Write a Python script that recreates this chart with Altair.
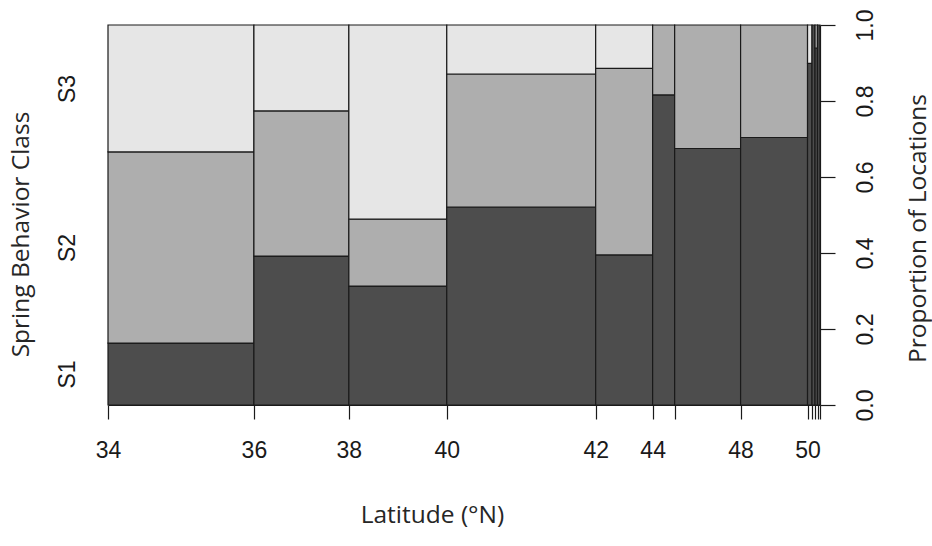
import altair as alt
import pandas as pd

# ---- data ----
lat_breaks = [34, 36, 38, 40, 42, 44, 46, 48, 50, 52, 54, 56, 58]
shown_labels = ["34", "36", "38", "40", "42", "44", "", "48", "50", "", "", "", ""]
# share of locations (%) in each latitude bin -> bar widths of the spineplot
bin_share = [20.49, 13.33, 13.75, 20.91, 8.00, 3.09, 9.26, 9.40, 0.63, 0.42, 0.35, 0.35]
# proportion of each spring behaviour class within each bin
s1_prop = [0.163, 0.392, 0.313, 0.521, 0.395, 0.816, 0.675, 0.704, 0.899, 1.000, 0.939, 1.000]
s2_prop = [0.503, 0.382, 0.176, 0.350, 0.491, 0.184, 0.325, 0.296, 0.000, 0.000, 0.061, 0.000]
s3_prop = [0.334, 0.226, 0.511, 0.129, 0.114, 0.000, 0.000, 0.000, 0.101, 0.000, 0.000, 0.000]
classes = ["S1", "S2", "S3"]
class_colors = ["#4D4D4D", "#AEAEAE", "#E6E6E6"]
prop_ticks = [0.0, 0.2, 0.4, 0.6, 0.8, 1.0]

# ---- build spineplot table ----
cum = [0.0]
for w in bin_share:
    cum.append(cum[-1] + w)
total = cum[-1]

rows = []
for i in range(len(bin_share)):
    base = 0.0
    for cls, vals in zip(classes, [s1_prop, s2_prop, s3_prop]):
        v = vals[i]
        if v > 0:
            rows.append({"x0": cum[i], "x1": cum[i + 1], "y0": base, "y1": base + v, "cls": cls})
        base += v
df = pd.DataFrame(rows)

# x-axis label expression
x_parts = [f"abs(datum.value - {p:.6f}) < 0.001 ? '{l}'" for p, l in zip(cum, shown_labels)]
x_label_expr = " : ".join(x_parts) + " : ''"

# left axis: class labels at the midpoints of the first bar's segments
mids, b = [], 0.0
for v in [s1_prop[0], s2_prop[0], s3_prop[0]]:
    mids.append(b + v / 2)
    b += v
y_parts = [f"abs(datum.value - {m:.6f}) < 0.001 ? '{c}'" for m, c in zip(mids, classes)]
y_label_expr = " : ".join(y_parts) + " : ''"

INK = "#1a1a1a"
LABEL_FONT = "Liberation Sans"
TITLE_FONT = "Open Sans"
TITLE_SIZE = 24.5
LABEL_SIZE = 23

bars = alt.Chart(df).mark_rect(stroke=INK, strokeWidth=1.2).encode(
    x=alt.X("x0:Q", scale=alt.Scale(domain=[0, total], nice=False, zero=True),
            axis=alt.Axis(values=cum, labelExpr=x_label_expr, tickSize=14, tickColor=INK,
                          tickWidth=1.2, domainColor=INK, domainWidth=1.2, grid=False,
                          labelFont=LABEL_FONT, labelFontSize=LABEL_SIZE, labelColor=INK,
                          labelBaseline="alphabetic", labelPadding=38, labelOverlap=False,
                          labelFlush=False, title="Latitude (°N)", titleFont=TITLE_FONT,
                          titleFontSize=TITLE_SIZE, titleFontWeight="normal",
                          titleColor="#262626", titleX=324, titleY=117, titleAlign="center",
                          titleBaseline="alphabetic")),
    x2="x1:Q",
    y=alt.Y("y0:Q", scale=alt.Scale(domain=[0, 1], nice=False),
            axis=alt.Axis(orient="left", values=mids, labelExpr=y_label_expr, ticks=False,
                          tickSize=0, domain=False, grid=False, labelAngle=270,
                          labelAlign="center", labelBaseline="alphabetic", labelPadding=34,
                          labelFont=LABEL_FONT, labelFontSize=LABEL_SIZE, labelColor=INK,
                          title="Spring Behavior Class", titleFont=TITLE_FONT,
                          titleFontSize=TITLE_SIZE, titleFontWeight="normal",
                          titleColor="#262626", titleAngle=270, titleX=-80, titleY=209,
                          titleAlign="center", titleBaseline="alphabetic")),
    y2="y1:Q",
    color=alt.Color("cls:N", scale=alt.Scale(domain=classes, range=class_colors), legend=None),
)

right_axis = alt.Chart(pd.DataFrame({"p": prop_ticks})).mark_point(opacity=0).encode(
    y=alt.Y("p:Q", scale=alt.Scale(domain=[0, 1], nice=False),
            axis=alt.Axis(orient="right", values=prop_ticks, format=".1f", tickSize=15,
                          tickColor=INK, tickWidth=1.2, domainColor=INK, domainWidth=1.2,
                          grid=False, labelAngle=270, labelAlign="center",
                          labelBaseline="alphabetic", labelPadding=37, labelFont=LABEL_FONT,
                          labelFontSize=LABEL_SIZE, labelColor=INK, labelOverlap=False,
                          labelFlush=False, title="Proportion of Locations",
                          titleFont=TITLE_FONT, titleFontSize=TITLE_SIZE,
                          titleFontWeight="normal", titleColor="#262626", titleAngle=270,
                          titleX=105, titleY=203, titleAlign="center",
                          titleBaseline="alphabetic")),
)

chart = alt.layer(bars, right_axis).resolve_scale(y="independent").properties(
    width=712, height=380,
    autosize=alt.AutoSizeParams(type="none"),
    padding={"left": 108, "top": 25, "right": 112, "bottom": 141},
    background="white",
).configure_view(stroke=None)

chart.save("out.html", embed_options={"renderer": "svg", "actions": False})
